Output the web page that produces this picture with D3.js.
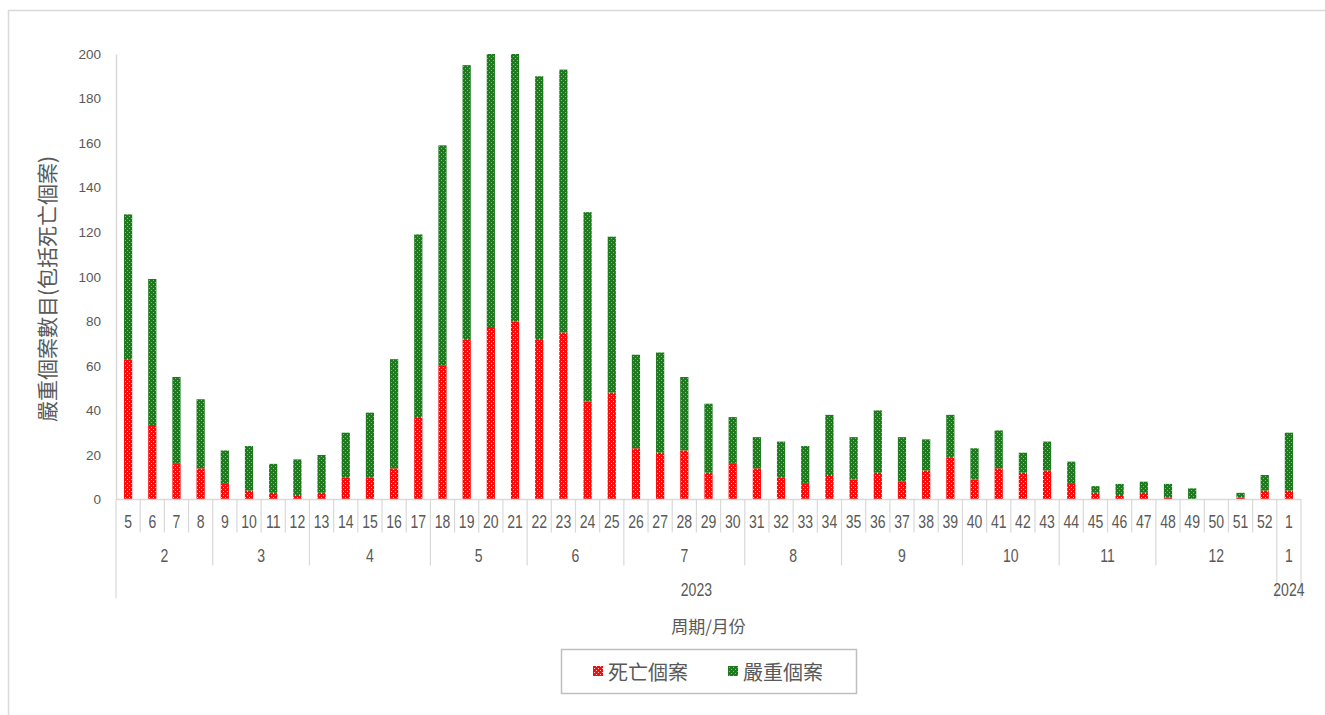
<!DOCTYPE html>
<html>
<head>
<meta charset="utf-8">
<script src="https://cdn.jsdelivr.net/npm/d3@7"></script>
<style>
  body { margin: 0; background: #fff; }
  svg { display: block; }
</style>
</head>
<body>
<div id="chart"></div>
<script>
// Weekly counts, week 5 of 2023 to week 1 of 2024
const weeks = ["5","6","7","8","9","10","11","12","13","14","15","16","17","18","19","20","21","22","23","24","25","26","27","28","29","30","31","32","33","34","35","36","37","38","39","40","41","42","43","44","45","46","47","48","49","50","51","52","1"];
const deaths = [63,33,16,14,7,4,3,2,3,10,10,14,37,60,72,77,80,72,75,44,48,23,21,22,12,16,14,10,7,11,9,12,8,13,19,9,14,12,13,7,3,2,3,1,0,0,1,4,4];
const severeOnly = [65,66,39,31,15,20,13,16,17,20,29,49,82,99,123,123,120,118,118,85,70,42,45,33,31,21,14,16,17,27,19,28,20,14,19,14,17,9,13,10,3,5,5,6,5,0,2,7,26];
const months = ["2","3","4","5","6","7","8","9","10","11","12","1"];
const monthWeeks = [4,4,5,4,4,5,4,5,4,4,5,1];
const years = ["2023","2024"];
const yearWeeks = [48,1];
const yTicks = [0,20,40,60,80,100,120,140,160,180,200];

const seriesNames = {death: "死亡個案", severe: "嚴重個案"};

const width = 1325, height = 715;
const plot = {left: 116, right: 1301, top: 54, bottom: 499.5};
const numFont = "'Liberation Sans', Arial, sans-serif";
const cjkFont = "'Noto Sans CJK TC', 'Noto Sans', sans-serif";
const textColor = "#595959";
const lineColor = "#d9d9d9";

const svg = d3.select("#chart").append("svg")
    .attr("width", width)
    .attr("height", height);

// fill patterns like the Excel ones
const defs = svg.append("defs");
const red = defs.append("pattern")
    .attr("id", "pat-death")
    .attr("patternUnits", "userSpaceOnUse")
    .attr("width", 4).attr("height", 4);
red.append("rect").attr("width", 4).attr("height", 4).attr("fill", "#ff0a0a");
red.append("rect").attr("x", 1).attr("y", 1).attr("width", 1).attr("height", 1).attr("fill", "#ffc8c8");
red.append("rect").attr("x", 3).attr("y", 3).attr("width", 1).attr("height", 1).attr("fill", "#ffc8c8");

const green = defs.append("pattern")
    .attr("id", "pat-severe")
    .attr("patternUnits", "userSpaceOnUse")
    .attr("width", 4).attr("height", 4);
green.append("rect").attr("width", 4).attr("height", 4).attr("fill", "#1f7a1f");
green.append("rect").attr("x", 1).attr("y", 0).attr("width", 1).attr("height", 1).attr("fill", "#7fbf7f");
green.append("rect").attr("x", 3).attr("y", 2).attr("width", 1).attr("height", 1).attr("fill", "#7fbf7f");

// outer frame
svg.append("rect")
    .attr("x", 8.5).attr("y", 10.5)
    .attr("width", width + 20).attr("height", height + 20)
    .attr("fill", "none")
    .attr("stroke", lineColor)
    .attr("stroke-width", 1.5);

const data = weeks.map((w, i) => ({i: i, week: w, death: deaths[i], severe: severeOnly[i]}));

const x = d3.scaleBand()
    .domain(d3.range(weeks.length))
    .range([plot.left, plot.right])
    .paddingInner(0.66)
    .paddingOuter(0.33);

const y = d3.scaleLinear()
    .domain([0, 200])
    .range([plot.bottom, plot.top]);

const stacked = d3.stack().keys(["death", "severe"])(data);

// bars
svg.append("g")
  .selectAll("g")
  .data(stacked)
  .join("g")
    .attr("fill", d => `url(#pat-${d.key})`)
  .selectAll("rect")
  .data(d => d)
  .join("rect")
    .attr("x", d => x(d.data.i))
    .attr("y", d => y(d[1]))
    .attr("width", x.bandwidth())
    .attr("height", d => y(d[0]) - y(d[1]));

// Y-axis
const yAxis = svg.append("g")
    .attr("transform", `translate(${plot.left},0)`)
    .call(d3.axisLeft(y).tickValues(yTicks).tickSize(0).tickPadding(15));
yAxis.select(".domain").attr("stroke", lineColor).attr("stroke-width", 1.5);
yAxis.selectAll("text")
    .attr("fill", textColor)
    .style("font-family", numFont)
    .style("font-size", "13.5px");

svg.append("text")
    .attr("transform", "translate(46,289) rotate(-90)")
    .attr("text-anchor", "middle")
    .attr("dominant-baseline", "central")
    .attr("fill", textColor)
    .style("font-family", cjkFont)
    .style("font-size", "21px")
    .text("嚴重個案數目(包括死亡個案)");

// X-axis: week / month / year rows
const step = x.step();
const rowWeek = plot.bottom + 33, rowMonth = plot.bottom + 66, rowYear = plot.bottom + 99;

svg.append("line")
    .attr("x1", plot.left).attr("x2", plot.right)
    .attr("y1", plot.bottom).attr("y2", plot.bottom)
    .attr("stroke", lineColor).attr("stroke-width", 1.5);

const xAxis = svg.append("g")
    .attr("transform", `translate(0,${plot.bottom})`)
    .call(d3.axisBottom(x).tickSize(0).tickPadding(0).tickFormat(i => weeks[i]));
xAxis.select(".domain").remove();
xAxis.selectAll("text")
    .attr("y", 22)
    .attr("dy", "0.35em")
    .attr("transform", "scale(0.78,1)")
    .attr("fill", textColor)
    .style("font-family", numFont)
    .style("font-size", "18px");

// boundaries between weeks, longer at month and year edges
const monthEdges = d3.cumsum(monthWeeks);
const yearEdges = d3.cumsum(yearWeeks);
const edges = d3.range(weeks.length + 1).map(k => {
  let bottom = rowWeek;
  if (k === 0 || yearEdges.includes(k)) bottom = rowYear;
  else if (monthEdges.includes(k)) bottom = rowMonth;
  return {k: k, bottom: bottom};
});
svg.append("g")
  .selectAll("line")
  .data(edges)
  .join("line")
    .attr("x1", d => plot.left + d.k * step)
    .attr("x2", d => plot.left + d.k * step)
    .attr("y1", plot.bottom)
    .attr("y2", d => d.bottom)
    .attr("stroke", lineColor)
    .attr("stroke-width", 1.2);

// group label helper
function groupLabels(labels, spans, yPos) {
  const starts = [0, ...d3.cumsum(spans)];
  svg.append("g")
    .selectAll("text")
    .data(labels)
    .join("text")
      .attr("transform", (d, j) => {
        const a = x(starts[j]) + x.bandwidth() / 2;
        const b = x(starts[j] + spans[j] - 1) + x.bandwidth() / 2;
        return `translate(${(a + b) / 2},${yPos}) scale(0.78,1)`;
      })
      .attr("text-anchor", "middle")
      .attr("dy", "0.35em")
      .attr("fill", textColor)
      .style("font-family", numFont)
      .style("font-size", "18px")
      .text(d => d);
}
groupLabels(months, monthWeeks, plot.bottom + 56);
groupLabels(years, yearWeeks, plot.bottom + 90);

svg.append("text")
    .attr("x", (plot.left + plot.right) / 2)
    .attr("y", 625)
    .attr("text-anchor", "middle")
    .attr("dominant-baseline", "central")
    .attr("fill", textColor)
    .style("font-family", cjkFont)
    .style("font-size", "17px")
    .text("周期/月份");

// legend
const legend = svg.append("g").attr("transform", "translate(561,649)");
legend.append("rect")
    .attr("x", 0.5).attr("y", 0.5)
    .attr("width", 295).attr("height", 44)
    .attr("fill", "#fff")
    .attr("stroke", "#bfbfbf")
    .attr("stroke-width", 1.5);
const items = legend.selectAll("g.item")
    .data(["death", "severe"])
    .join("g")
    .attr("class", "item")
    .attr("transform", (d, i) => `translate(${32 + i * 135},22)`);
items.append("rect")
    .attr("x", 0).attr("y", -5)
    .attr("width", 10).attr("height", 10)
    .attr("fill", d => `url(#pat-${d})`);
items.append("text")
    .attr("x", 15)
    .attr("dominant-baseline", "central")
    .attr("fill", textColor)
    .style("font-family", cjkFont)
    .style("font-size", "20px")
    .text(d => seriesNames[d]);
</script>
</body>
</html>
